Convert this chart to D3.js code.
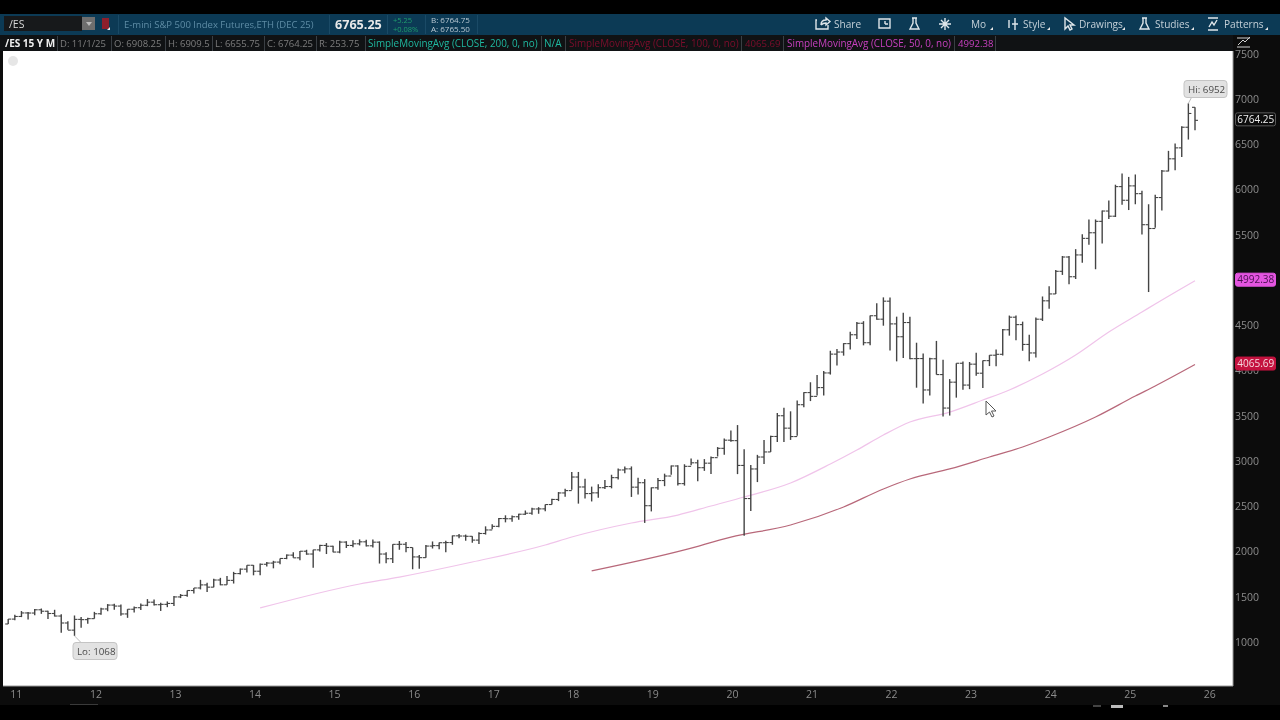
<!DOCTYPE html>
<html>
<head>
<meta charset="utf-8">
<style>
  html, body { margin: 0; padding: 0; background: #000; overflow: hidden; }
  svg { display: block; filter: blur(0.45px); font-family: "Open Sans", "Noto Sans", sans-serif; }
</style>
</head>
<body>
<div id="chart-area"></div>
<script src="https://cdn.jsdelivr.net/npm/d3@7"></script>
<script>
const yearLabels = ['11','12','13','14','15','16','17','18','19','20','21','22','23','24','25','26']
// 5000 sits hidden behind the 50 average flag
const priceTicks = [1000,1500,2000,2500,3000,3500,4000,4500,5500,6000,6500,7000,7500]

// monthly bars, Dec 2010 to Nov 2025
const opens = [
  1199,
  1253,1282,1321,1320,1356,1340,1315,1287,1210,1131,1250,1247,
  1258,1312,1365,1408,1397,1310,1362,1379,1406,1440,1412,1416,
  1426,1498,1515,1569,1597,1631,1606,1685,1632,1681,1756,1805,
  1848,1782,1859,1872,1883,1923,1960,1930,2003,1972,2018,2067,
  2058,1994,2104,2067,2085,2107,2063,2103,1972,1920,2079,2080,
  2044,1940,1932,2060,2065,2097,2099,2173,2171,2168,2126,2199,
  2238,2278,2364,2362,2384,2412,2423,2470,2471,2519,2575,2647,
  2673,2823,2713,2640,2648,2705,2718,2816,2901,2913,2711,2760,
  2506,2704,2784,2834,2945,2750,2941,2980,2926,2976,3037,3140,
  3230,3225,2951,2585,2912,3044,3100,3271,3500,3363,3270,3622,
  3756,3714,3811,3973,4181,4204,4297,4395,4522,4307,4605,4567,
  4766,4515,4373,4530,4131,4132,3785,4130,3955,3585,3871,4080,
  3839,4070,3970,4109,4169,4179,4450,4589,4507,4288,4194,4567,
  4770,4846,5096,5254,5036,5277,5460,5522,5648,5762,5705,6032,
  5881,6040,5954,5611,5569,5911,6204,6339,6460,6688,6908.25
]
const highs = [
  1254,
  1300,1342,1332,1364,1370,1345,1356,1306,1229,1293,1277,1269,
  1333,1378,1419,1422,1415,1363,1391,1426,1474,1470,1434,1448,
  1509,1530,1570,1597,1687,1654,1698,1709,1729,1775,1813,1849,
  1850,1867,1883,1897,1924,1968,1991,2005,2019,2018,2075,2093,
  2064,2119,2114,2125,2134,2129,2132,2112,1993,2079,2116,2104,
  2044,1962,2072,2111,2100,2120,2177,2193,2187,2169,2214,2278,
  2300,2371,2400,2398,2418,2453,2484,2490,2519,2582,2657,2694,
  2878,2879,2803,2717,2742,2791,2848,2916,2940,2940,2815,2800,
  2708,2813,2860,2949,2954,2964,3027,3013,3021,3050,3154,3249,
  3337,3397,3130,2955,3068,3233,3280,3530,3588,3549,3668,3760,
  3870,3950,3994,4218,4238,4302,4429,4537,4545,4608,4743,4808,
  4808,4595,4637,4593,4307,4189,4140,4327,4119,3905,4080,4100,
  4094,4195,4110,4170,4231,4458,4607,4607,4540,4394,4587,4818,
  4931,5111,5265,5264,5341,5505,5669,5669,5767,5878,6053,6178,
  6139,6166,5986,5837,5943,6215,6427,6508,6699,6952,6909.5
]
const lows = [
  1199,
  1241,1275,1249,1295,1311,1253,1282,1101,1136,1068,1158,1202,
  1258,1300,1340,1357,1291,1267,1325,1354,1396,1403,1343,1385,
  1398,1485,1501,1536,1581,1553,1604,1627,1633,1646,1746,1767,
  1737,1737,1834,1814,1859,1915,1930,1904,1964,1820,2001,1972,
  1992,1980,2039,2048,2067,2056,2044,1867,1871,1872,2019,1993,
  1804,1810,1931,2033,2025,1992,2074,2147,2119,2097,2084,2187,
  2245,2267,2322,2328,2352,2405,2405,2417,2446,2519,2557,2605,
  2682,2529,2586,2553,2594,2691,2698,2796,2864,2603,2631,2316,
  2443,2681,2722,2848,2729,2728,2952,2776,2891,2855,3050,3070,
  3214,2855,2174,2447,2767,2966,3100,3209,3209,3233,3279,3594,
  3662,3725,3723,3955,4056,4164,4233,4347,4278,4278,4560,4495,
  4222,4101,4137,4124,3810,3636,3723,3955,3491,3502,3700,3788,
  3794,3943,3808,4049,4048,4165,4385,4335,4218,4103,4145,4547,
  4682,4845,5056,4953,5011,5191,5390,5119,5402,5674,5696,5832,
  5773,5837,5504,4867,5578,5767,6200,6212,6360,6552,6655.75
]
const closes = [
  1253,
  1282,1321,1320,1356,1340,1315,1287,1210,1131,1250,1247,1258,
  1312,1365,1408,1397,1310,1362,1379,1406,1440,1412,1416,1426,
  1498,1515,1569,1597,1631,1606,1685,1632,1681,1756,1805,1848,
  1782,1859,1872,1883,1923,1960,1930,2003,1972,2018,2067,2058,
  1994,2104,2067,2085,2107,2063,2103,1972,1920,2079,2080,2044,
  1940,1932,2060,2065,2097,2099,2173,2171,2168,2126,2199,2238,
  2278,2364,2362,2384,2412,2423,2470,2471,2519,2575,2647,2673,
  2823,2713,2640,2648,2705,2718,2816,2901,2913,2711,2760,2506,
  2704,2784,2834,2945,2750,2941,2980,2926,2976,3037,3140,3230,
  3225,2951,2585,2912,3044,3100,3271,3500,3363,3270,3622,3756,
  3714,3811,3973,4181,4204,4297,4395,4522,4307,4605,4567,4766,
  4515,4373,4530,4131,4132,3785,4130,3955,3585,3871,4080,3839,
  4070,3970,4109,4169,4179,4450,4589,4507,4288,4194,4567,4770,
  4846,5096,5254,5036,5277,5460,5522,5648,5762,5705,6032,5881,
  6040,5954,5611,5569,5911,6204,6339,6460,6688,6840,6764.25
]

// moving averages read at a few bar positions
const ma50Bars = [38,53,59,70,81,85,94,101,106,111,118,124,128,132,136,142,147,151,156,161,166,171,173,179]
const ma50Vals = [1376,1641,1718,1884,2072,2160,2315,2403,2503,2602,2757,2967,3122,3287,3431,3541,3674,3785,3961,4171,4425,4646,4735,4992.38]
const ma100Bars = [88,102,109,118,126,132,136,142,148,153,157,164,170,173,179]
const ma100Vals = [1785,2017,2160,2293,2492,2691,2801,2912,3044,3155,3265,3486,3718,3829,4065.69]

const legendCells = ['D: 11/1/25','O: 6908.25','H: 6909.5','L: 6655.75','C: 6764.25','R: 253.75']
const legendCellX = [60,114,168,215,267,319]

const svg = d3.select('#chart-area')
              .append('svg')
              .attr('width', 1280)
              .attr('height', 720)

const chart = { left:3, right:1233, top:51, bottom:686 }

// X Scale
const x = d3.scaleLinear()
            .domain([0, 179])
            .range([8.2, 1195])

// Y Scale
const y = d3.scaleLinear()
            .domain([1000, 7000])
            .range([642, 99])

// Backgrounds
const rect = (sel, x0, y0, w, h, fill) => sel.append('rect')
    .attr('x', x0).attr('y', y0).attr('width', w).attr('height', h).attr('fill', fill)

const label = (sel, tx, ty, str, size, fill, weight) => sel.append('text')
    .attr('x', tx).attr('y', ty)
    .attr('font-size', size + 'px')
    .attr('fill', fill)
    .attr('font-weight', weight || 400)
    .text(str)

rect(svg, 0, 0, 1280, 720, '#000')
rect(svg, 0, 14, 1280, 691, '#0c0c0c')
rect(svg, 0, 14, 1280, 21, '#0c3a55')
rect(svg, 0, 35, 1233, 16, '#101214')
rect(svg, chart.left, chart.top, chart.right - chart.left, chart.bottom - chart.top, '#fff')
svg.append('path')
   .attr('d', `M${chart.right},${chart.top}V${chart.bottom}H${chart.left}`)
   .attr('fill', 'none')
   .attr('stroke', '#9a9a9a')

// Top bar
const topBar = svg.append('g')
rect(topBar, 4, 16, 78, 15, '#17191b')
label(topBar, 9, 28, '/ES', 10.5, '#d8d8d8')
rect(topBar, 82, 17, 13, 13, '#6e6e6e')
topBar.append('path').attr('d', 'M86,22h6l-3,4z').attr('fill', '#bbb')
rect(topBar, 102, 18, 7, 11, '#8c1f2c')
label(topBar, 124, 28, 'E-mini S&P 500 Index Futures,ETH (DEC 25)', 9.5, '#5e8ca5')
label(topBar, 335, 29, '6765.25', 12.6, '#e8e8e8', 700)
label(topBar, 393, 23, '+5.25', 7.5, '#1f9e6d')
label(topBar, 393, 32, '+0.08%', 7.5, '#1f9e6d')
label(topBar, 431, 23, 'B: 6764.75', 8, '#b9c8d2')
label(topBar, 431, 32, 'A: 6765.50', 8, '#b9c8d2')

const dividers = [118, 329, 387, 425, 477]
topBar.selectAll('.divider')
   .data(dividers)
   .enter()
   .append('rect')
   .attr('class', 'divider')
   .attr('x', d => d).attr('y', 15).attr('width', 1).attr('height', 19)
   .attr('fill', '#1a4a66')

const buttons = [
  { text:'Share', x:834 },
  { text:'Mo', x:971 },
  { text:'Style', x:1023 },
  { text:'Drawings', x:1079 },
  { text:'Studies', x:1155 },
  { text:'Patterns', x:1224 }
]
topBar.selectAll('.button')
   .data(buttons)
   .enter()
   .append('text')
   .attr('class', 'button')
   .attr('x', d => d.x).attr('y', 28)
   .attr('font-size', '10.1px')
   .attr('fill', '#c4d0d8')
   .text(d => d.text)

// little corner marks on the menu buttons
const cornerMarks = [110, 993, 1050, 1125, 1194, 1268]
topBar.selectAll('.corner')
   .data(cornerMarks)
   .enter()
   .append('path')
   .attr('class', 'corner')
   .attr('d', d => `M${d},30h-3l3,-3z`)
   .attr('fill', '#e8e8e8')

// toolbar icons
const iconStroke = { fill:'none', stroke:'#dfe6ea', 'stroke-width':1.4 }
const icons = [
  'M817,20h-1v9h12v-4M821,25c0,-3 2,-5 5,-5v-2l4,3.5l-4,3.5v-2c-2,0 -4,1 -5,2',
  'M879,19h11v9h-11zM885,24v-3M885,24h3',
  'M912,18h5M913,18v5l-3,6h9l-3,-6v-5',
  'M945,18v12M939,24h12M941,20l8,8M949,20l-8,8',
  'M1009,20v8M1015,18v12M1012,24h6',
  'M1065,18v11l3,-3l2,4l2,-1l-2,-4h4z',
  'M1142,18h5M1143,18v5l-3,6h9l-3,-6v-5',
  'M1208,18h10M1208,30h10M1209,27l3,-5l2,3l3,-5'
]
icons.forEach(d => {
    const p = topBar.append('path').attr('d', d)
    Object.entries(iconStroke).forEach(([k, v]) => p.attr(k, v))
})

// Study row
const legend = svg.append('g')
label(legend, 5, 47, '/ES 15 Y M', 10, '#f0f0f0', 700)
legend.selectAll('.cell')
      .data(legendCells)
      .enter()
      .append('text')
      .attr('class', 'cell')
      .attr('x', (d, i) => legendCellX[i]).attr('y', 47)
      .attr('font-size', '9.5px')
      .attr('fill', '#7d7d7d')
      .text(d => d)
label(legend, 368, 47, 'SimpleMovingAvg (CLOSE, 200, 0, no)', 9.9, '#1fb8a0')
label(legend, 544, 47, 'N/A', 10, '#1fb8a0')
label(legend, 569, 47, 'SimpleMovingAvg (CLOSE, 100, 0, no)', 9.9, '#7d0e2c')
label(legend, 745, 47, '4065.69', 9.6, '#7d0e2c')
label(legend, 787, 47, 'SimpleMovingAvg (CLOSE, 50, 0, no)', 9.9, '#c840c0')
label(legend, 958, 47, '4992.38', 9.6, '#c840c0')

const cellLines = [57, 111, 165, 212, 264, 316, 365, 541, 565, 741, 783, 954, 995]
legend.selectAll('.sep')
      .data(cellLines)
      .enter()
      .append('rect')
      .attr('class', 'sep')
      .attr('x', d => d).attr('y', 36).attr('width', 1).attr('height', 15)
      .attr('fill', '#3a3f44')

svg.append('circle').attr('cx', 13).attr('cy', 61).attr('r', 5).attr('fill', '#e6e6e6')

// Moving averages
const line = d3.line()
               .x(d => x(d[0]))
               .y(d => y(d[1]))
               .curve(d3.curveMonotoneX)

svg.append('path')
   .attr('d', line(d3.zip(ma50Bars, ma50Vals)))
   .attr('fill', 'none')
   .attr('stroke', '#f0c4ea')
   .attr('stroke-width', 1.25)

svg.append('path')
   .attr('d', line(d3.zip(ma100Bars, ma100Vals)))
   .attr('fill', 'none')
   .attr('stroke', '#b8687a')
   .attr('stroke-width', 1.25)

// OHLC bars
const bars = svg.append('g')
                .attr('stroke', '#444')
                .attr('fill', 'none')
                .selectAll('g')
                .data(opens.map((d, i) => ({ i:i, o:d, h:highs[i], l:lows[i], c:closes[i] })))
                .enter()
                .append('g')

bars.append('line')
    .attr('x1', d => x(d.i)).attr('x2', d => x(d.i))
    .attr('y1', d => y(d.h)).attr('y2', d => y(d.l))
    .attr('stroke-width', 1.4)
bars.append('line')
    .attr('x1', d => x(d.i) - 3).attr('x2', d => x(d.i))
    .attr('y1', d => y(d.o)).attr('y2', d => y(d.o))
    .attr('stroke-width', 1.1)
bars.append('line')
    .attr('x1', d => x(d.i)).attr('x2', d => x(d.i) + 3)
    .attr('y1', d => y(d.c)).attr('y2', d => y(d.c))
    .attr('stroke-width', 1.1)

// Y Axis
const yAxisCall = d3.axisRight(y)
                    .tickValues(priceTicks)
                    .tickFormat(d3.format('d'))
                    .tickSize(0)
                    .tickPadding(2)
const yAxisGroup = svg.append('g')
                      .attr('class', 'y-axis')
                      .attr('transform', 'translate(1233, 0)')
                      .call(yAxisCall)
yAxisGroup.select('.domain').remove()
yAxisGroup.selectAll('text')
          .attr('font-family', '"Open Sans", sans-serif')
          .attr('font-size', '10.5px')
          .attr('fill', '#8c8c8c')

// X Axis
const yearBars = yearLabels.map((d, i) => 1 + i * 12)
const xAxisCall = d3.axisBottom(x)
                    .tickValues(yearBars)
                    .tickFormat((d, i) => yearLabels[i])
                    .tickSize(0)
                    .tickPadding(5)
const xAxisGroup = svg.append('g')
                      .attr('class', 'x-axis')
                      .attr('transform', 'translate(1, 686)')
                      .call(xAxisCall)
xAxisGroup.select('.domain').remove()
xAxisGroup.selectAll('text')
          .attr('font-family', '"Open Sans", sans-serif')
          .attr('font-size', '10.5px')
          .attr('fill', '#8c8c8c')

// Hi / Lo bubbles
const bubble = (bx, by, w, str, fromX, fromY) => {
    svg.append('path')
       .attr('d', `M${fromX},${fromY}L${bx + w / 2 - 14},${by + (fromY < by ? 0 : 17)}`)
       .attr('stroke', '#bdbdbd')
       .attr('fill', 'none')
    svg.append('rect')
       .attr('x', bx).attr('y', by).attr('width', w).attr('height', 17).attr('rx', 3)
       .attr('fill', '#e2e2e2').attr('stroke', '#c4c4c4')
    label(svg, bx + 4, by + 12.5, str, 9.8, '#4a4a4a')
}
bubble(1184, 80.5, 43, 'Hi: 6952', x(178), y(6952))
bubble(73, 642.5, 44, 'Lo: 1068', x(10), y(1068))

// Right side price flags
const flag = (value, fill, stroke, color) => {
    const fy = y(value) - 1
    svg.append('rect')
       .attr('x', 1235.5).attr('y', fy - 6.5).attr('width', 40).attr('height', 13).attr('rx', 2)
       .attr('fill', fill).attr('stroke', stroke)
    label(svg, 1237.3, fy + 3.6, d3.format('.2f')(value), 10, color)
}
flag(closes[closes.length - 1], '#0c0c0c', '#5a5a5a', '#eee')
flag(ma50Vals[ma50Vals.length - 1], '#e455e0', '#e455e0', '#4a1050')
flag(ma100Vals[ma100Vals.length - 1], '#c4123f', '#c4123f', '#f5d8de')

// Cursor
svg.append('path')
   .attr('d', 'M986,401v14l3.5,-3l2.5,5l2,-1l-2.5,-5h4.5z')
   .attr('fill', '#fff')
   .attr('stroke', '#555')

// Little study icon over the axis
svg.append('path')
   .attr('d', 'M1237,38h13M1237,47h13M1238,45l5,-5l2,2l5,-5')
   .attr('fill', 'none')
   .attr('stroke', '#d0d0d0')

// Bottom scroll marks
rect(svg, 70, 704, 28, 1, '#3a3a3a')
rect(svg, 1093, 705, 8, 2, '#444')
rect(svg, 1111, 705, 12, 3, '#bcbcbc')
rect(svg, 1163, 705, 5, 2, '#888')
</script>
</body>
</html>
